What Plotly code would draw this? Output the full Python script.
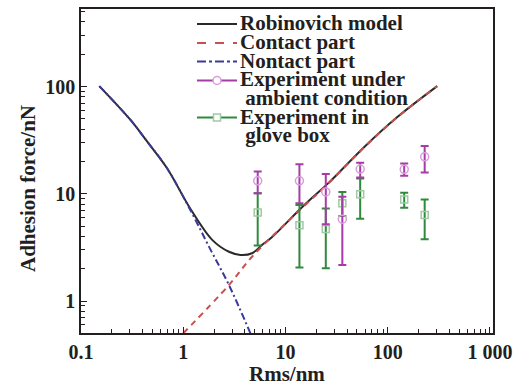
import plotly.graph_objects as go

# ---- data ----
model_x = [0.151, 0.305, 0.445, 0.695, 1.17, 1.93, 2.8, 3.63, 4.71, 5.89, 7.36, 13.7, 18.0, 26.1, 59.4, 125, 305]
model_y = [101, 48.8, 30.6, 17.3, 7.3, 3.7, 2.88, 2.69, 2.79, 3.33, 3.93, 7.1, 9.08, 12.5, 27.5, 52.2, 101]

contact_x = [1.0, 2.8, 4.71, 13.7, 26.1, 59.4, 125, 305]
contact_y = [0.5, 1.41, 2.59, 7.0, 12.4, 27.3, 52.0, 101]

nontact_x = [0.151, 0.305, 0.445, 0.695, 1.17, 1.79, 2.8, 4.54]
nontact_y = [101, 48.8, 30.6, 17.3, 7.1, 3.2, 1.41, 0.5]

rms = [5.35, 13.7, 24.8, 36.0, 53.8, 145, 230]
ambient_y = [13.2, 13.2, 10.4, 5.8, 17.0, 16.9, 22.1]
ambient_hi = [16.1, 18.9, 15.3, 9.4, 19.5, 19.2, 27.9]
ambient_lo = [10.1, 8.15, 5.2, 2.17, 14.2, 14.7, 15.8]
glove_y = [6.7, 5.1, 4.7, 8.15, 9.9, 8.87, 6.34]
glove_hi = [10.1, 7.85, 7.3, 10.4, 13.9, 10.2, 8.87]
glove_lo = [3.3, 2.06, 2.02, 6.2, 5.85, 7.4, 3.76]

x_tickvals = [0.1, 1, 10, 100, 1000]
x_ticktext = ["0.1", "1", "10", "100", "1 000"]
y_tickvals = [1, 10, 100]
y_ticktext = ["1", "10", "100"]

legend_labels = ["Robinovich model", "Contact part", "Nontact part",
                 "Experiment under", " ambient condition", "Experiment in", " glove box"]

x_title = "Rms/nm"
y_title = "Adhesion force/nN"

# ---- colours / styles ----
INK = "#231f20"
BLACK = "#2a2a2a"
RED = "#c8504e"
BLUE = "#3a3a9c"
MAG = "#a53ca8"
MAG_LIGHT = "#d99bdb"
GRN = "#2f8a3c"
GRN_LIGHT = "#9fcaa2"
FONT = "Liberation Serif"

fig = go.Figure()

fig.add_trace(go.Scatter(x=model_x, y=model_y, mode="lines",
                         line=dict(color=BLACK, width=2, shape="spline"), name="Robinovich model"))
fig.add_trace(go.Scatter(x=contact_x, y=contact_y, mode="lines",
                         line=dict(color=RED, width=2, dash="6px,5px", shape="spline"), name="Contact part"))
fig.add_trace(go.Scatter(x=nontact_x, y=nontact_y, mode="lines",
                         line=dict(color=BLUE, width=2, dash="7px,3px,2px,3px", shape="spline"), name="Nontact part"))

glove_plus = [h - v for h, v in zip(glove_hi, glove_y)]
glove_minus = [v - l for v, l in zip(glove_y, glove_lo)]
fig.add_trace(go.Scatter(x=rms, y=glove_y, mode="markers",
                         marker=dict(symbol="square-open", size=7, color=GRN_LIGHT, line=dict(width=1.5, color=GRN_LIGHT)),
                         error_y=dict(type="data", array=glove_plus, arrayminus=glove_minus,
                                      color=GRN, thickness=2, width=4),
                         name="Experiment in glove box"))

amb_plus = [h - v for h, v in zip(ambient_hi, ambient_y)]
amb_minus = [v - l for v, l in zip(ambient_y, ambient_lo)]
fig.add_trace(go.Scatter(x=rms, y=ambient_y, mode="markers",
                         marker=dict(symbol="circle-open", size=8, color=MAG_LIGHT, line=dict(width=1.5, color=MAG_LIGHT)),
                         error_y=dict(type="data", array=amb_plus, arrayminus=amb_minus,
                                      color=MAG, thickness=2, width=4),
                         name="Experiment under ambient condition"))

# ---- hand-built legend (positions in pixels converted to paper coords) ----
L, R, T, B = 81, 493, 9, 333
def px(xp):
    return (xp - L) / (R - L)
def py(yp):
    return (B - yp) / (B - T)

rows_y = [23, 42, 60.5, 79.5, 98, 116.5, 135]
shapes = []
annotations = []
for lab, yy in zip(legend_labels, rows_y):
    annotations.append(dict(x=px(238), y=py(yy), xref="paper", yref="paper", text=lab,
                            showarrow=False, xanchor="left", yanchor="middle",
                            font=dict(family=FONT, size=21, color=INK, weight="bold")))

sample_styles = [(rows_y[0], BLACK, "solid"), (rows_y[1], RED, "dash"),
                 (rows_y[2], BLUE, "dashdot"), (rows_y[3], MAG, "solid"), (rows_y[5], GRN, "solid")]
for yy, col, dash in sample_styles:
    shapes.append(dict(type="line", xref="paper", yref="paper", x0=px(197), x1=px(237),
                       y0=py(yy + 1), y1=py(yy + 1), line=dict(color=col, width=2, dash=dash)))
shapes.append(dict(type="circle", xref="paper", yref="paper", xsizemode="pixel", ysizemode="pixel",
                   xanchor=px(217), yanchor=py(rows_y[3] + 1), x0=-4, x1=4, y0=-4, y1=4,
                   fillcolor="white", line=dict(color=MAG_LIGHT, width=1.5)))
shapes.append(dict(type="rect", xref="paper", yref="paper", xsizemode="pixel", ysizemode="pixel",
                   xanchor=px(217), yanchor=py(rows_y[5] + 1), x0=-3.5, x1=3.5, y0=-3.5, y1=3.5,
                   fillcolor="white", line=dict(color=GRN_LIGHT, width=1.5)))

# axis titles as annotations placed in pixels
annotations.append(dict(x=px(287), y=py(374), xref="paper", yref="paper", text=x_title,
                        showarrow=False, xanchor="center", yanchor="middle",
                        font=dict(family=FONT, size=21, color=INK, weight="bold")))
annotations.append(dict(x=px(28), y=py(189), xref="paper", yref="paper", text=y_title,
                        showarrow=False, xanchor="center", yanchor="middle", textangle=-90,
                        font=dict(family=FONT, size=21, color=INK, weight="bold")))

fig.update_layout(
    width=515, height=387,
    margin=dict(l=L, r=515 - R, t=T, b=387 - B, autoexpand=False),
    paper_bgcolor="white", plot_bgcolor="white",
    showlegend=False,
    shapes=shapes, annotations=annotations,
    font=dict(family=FONT, color=INK),
)

minor_vals = [m * d for d in (0.1, 1, 10, 100) for m in range(2, 10)]

fig.update_xaxes(type="log", range=[-1, 3.03], showgrid=False, zeroline=False, automargin=False,
                 showline=True, linecolor=INK, linewidth=1.5, mirror=True,
                 tickmode="array", tickvals=x_tickvals, ticktext=x_ticktext,
                 ticks="inside", ticklen=6, tickwidth=1.3, tickcolor=INK,
                 tickfont=dict(family=FONT, size=20, color=INK, weight="bold"),
                 minor=dict(tickmode="array", tickvals=minor_vals,
                            ticks="inside", ticklen=4, tickwidth=1.2, tickcolor=INK, showgrid=False))

fig.update_yaxes(type="log", range=[-0.298, 2.723], showgrid=False, zeroline=False, automargin=False,
                 showline=True, linecolor=INK, linewidth=1.5, mirror=True,
                 tickmode="array", tickvals=y_tickvals, ticktext=y_ticktext,
                 ticks="inside", ticklen=6, tickwidth=1.3, tickcolor=INK,
                 tickfont=dict(family=FONT, size=20, color=INK, weight="bold"),
                 minor=dict(tickmode="array", tickvals=minor_vals,
                            ticks="inside", ticklen=4, tickwidth=1.2, tickcolor=INK, showgrid=False))

fig.write_html("out.html", config={"displayModeBar": False},
               post_script="document.body.style.margin='0';document.body.style.overflow='hidden';")
